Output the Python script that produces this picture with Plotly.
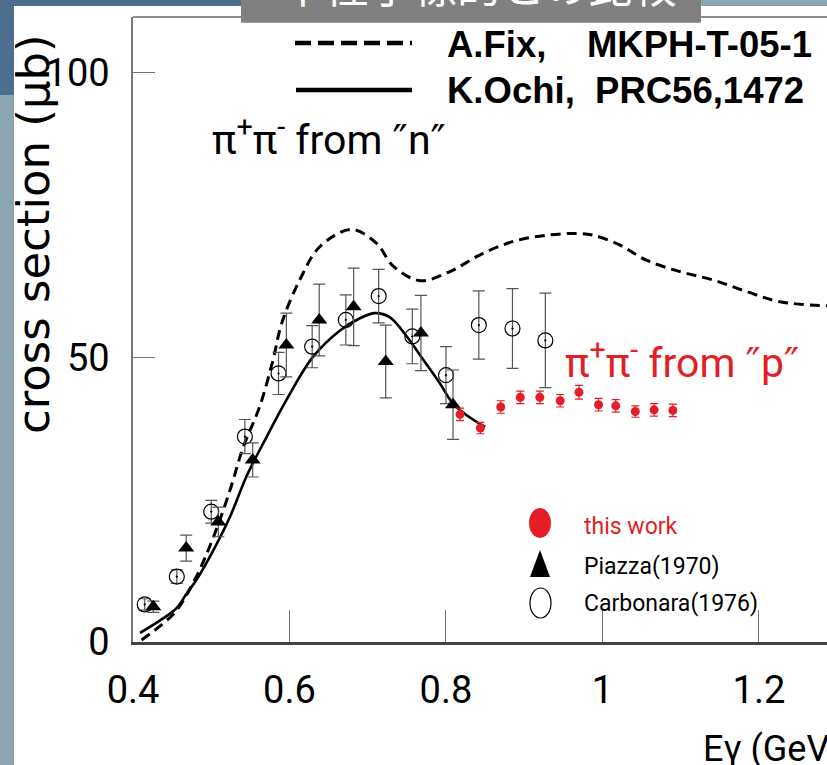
import plotly.graph_objects as go

# ---------------- data ----------------
fix_E = [0.411, 0.439, 0.456, 0.481, 0.503, 0.524, 0.541, 0.562, 0.579, 0.590, 0.613, 0.639,
         0.679, 0.711, 0.733, 0.767, 0.805, 0.843, 0.886, 0.929, 0.967, 0.988, 1.022, 1.056,
         1.099, 1.142, 1.184, 1.227, 1.287]
fix_sigma = [0.35, 3.3, 5.6, 11.5, 18.5, 26.7, 34.3, 41.4, 49.6, 56.0, 63.6, 69.5,
             72.5, 70.1, 66.0, 63.5, 65.1, 68.0, 70.4, 71.5, 71.8, 71.5, 69.8, 67.1,
             65.1, 63.6, 61.6, 59.8, 59.1]

ochi_E = [0.409, 0.439, 0.456, 0.469, 0.481, 0.503, 0.524, 0.545, 0.571, 0.596, 0.630, 0.665,
          0.690, 0.709, 0.728, 0.750, 0.771, 0.792, 0.809, 0.826, 0.850]
ochi_sigma = [1.6, 4.2, 6.0, 8.6, 10.9, 16.2, 22.0, 29.1, 36.1, 42.5, 50.1, 54.8,
              56.9, 57.8, 57.1, 53.7, 49.6, 45.5, 41.9, 39.9, 37.8]

carb_E = [0.415, 0.456, 0.500, 0.543, 0.586, 0.629, 0.672, 0.714, 0.757, 0.800, 0.842, 0.885, 0.927]
carb_sigma = [6.6, 11.5, 22.9, 36.1, 47.2, 51.9, 56.6, 60.8, 53.7, 46.9, 55.7, 55.1, 53.0]
carb_err = [1.0, 1.2, 2.0, 3.0, 3.7, 3.7, 4.4, 4.7, 4.8, 5.0, 6.0, 7.0, 8.3]

piazza_E = [0.426, 0.468, 0.509, 0.553, 0.596, 0.638, 0.682, 0.723, 0.768, 0.809]
piazza_sigma = [6.2, 16.5, 21.1, 32.0, 52.2, 56.6, 58.9, 49.3, 54.3, 41.7]
piazza_err = [1.0, 2.3, 2.6, 3.0, 5.6, 6.3, 6.8, 6.4, 6.6, 6.1]

this_E = [0.818, 0.844, 0.870, 0.895, 0.920, 0.946, 0.970, 0.995, 1.017, 1.042, 1.066, 1.090]
this_sigma = [40.0, 37.6, 41.3, 43.0, 43.0, 42.4, 43.9, 41.7, 41.5, 40.5, 40.8, 40.7]
this_err = [1.1, 1.0, 1.1, 1.1, 1.1, 1.1, 1.2, 1.1, 1.1, 1.0, 1.1, 1.1]

x_ticks = [0.4, 0.6, 0.8, 1.0, 1.2]
x_ticklabels = ["0.4", "0.6", "0.8", "1", "1.2"]
y_ticks = [0, 50, 100]
y_ticklabels = ["0", "50", "100"]

curve_names = ["A.Fix,\u00a0\u00a0\u00a0\u00a0MKPH-T-05-1", "K.Ochi,\u00a0\u00a0PRC56,1472"]
point_names = ["this work", "Piazza(1970)", "Carbonara(1976)"]
title_text = "中性子標的との比較"

# ---------------- layout geometry ----------------
W, H = 827, 765
ML, MR, MT, MB = 133, 0, 17, 123
PW, PH = W - ML - MR, H - MT - MB
X_RANGE = [0.4, 1.287]
Y_RANGE = [0, 109.84]

RED = "#e41e26"
NARROW = "Roboto, Liberation Sans, sans-serif"
BOLD = "Liberation Sans, Arial, sans-serif"
Q = '<span style="font-family:DejaVu Sans">″</span>'


def px2x(px):
    return (px - ML) / PW


def py2y(py):
    return (H - MB - py) / PH


fig = go.Figure()

# theory curves
fig.add_trace(go.Scatter(x=fix_E, y=fix_sigma, mode="lines", name=curve_names[0],
                         line=dict(color="black", width=3, dash="10px,6px", shape="spline"),
                         showlegend=False))
fig.add_trace(go.Scatter(x=ochi_E, y=ochi_sigma, mode="lines", name=curve_names[1],
                         line=dict(color="black", width=2.6, shape="spline"),
                         showlegend=False))

# data points
fig.add_trace(go.Scatter(x=carb_E, y=carb_sigma, mode="markers", name=point_names[2],
                         marker=dict(symbol="circle-open-dot", size=15, color="black",
                                     line=dict(width=1.2, color="black")),
                         error_y=dict(type="data", array=carb_err, color="#555555",
                                      thickness=1.2, width=6),
                         showlegend=False))
fig.add_trace(go.Scatter(x=piazza_E, y=piazza_sigma, mode="markers", name=point_names[1],
                         marker=dict(symbol="triangle-up", size=14, color="black"),
                         error_y=dict(type="data", array=piazza_err, color="#555555",
                                      thickness=1.2, width=6),
                         showlegend=False))
fig.add_trace(go.Scatter(x=this_E, y=this_sigma, mode="markers", name=point_names[0],
                         marker=dict(symbol="circle", size=9, color=RED),
                         error_y=dict(type="data", array=this_err, color=RED,
                                      thickness=1.2, width=4),
                         showlegend=False))

shapes = []
# slide background around the white chart area
shapes.append(dict(type="rect", xref="paper", yref="paper", x0=px2x(0), x1=px2x(14),
                   y0=py2y(H), y1=py2y(0), fillcolor="#8ba6b0", line=dict(width=0), layer="above"))
shapes.append(dict(type="rect", xref="paper", yref="paper", x0=px2x(0), x1=px2x(14),
                   y0=py2y(95), y1=py2y(0), fillcolor="#4c6f8f", line=dict(width=0), layer="above"))
shapes.append(dict(type="rect", xref="paper", yref="paper", x0=px2x(0), x1=px2x(241),
                   y0=py2y(6), y1=py2y(0), fillcolor="#4c6f8f", line=dict(width=0), layer="above"))
shapes.append(dict(type="rect", xref="paper", yref="paper", x0=px2x(701), x1=px2x(W),
                   y0=py2y(6), y1=py2y(0), fillcolor="#8ba6b0", line=dict(width=0), layer="above"))
# top frame line
shapes.append(dict(type="line", xref="paper", yref="paper", x0=0, x1=1, y0=1, y1=1,
                   line=dict(color="#666666", width=1.5), layer="above"))
# title box
shapes.append(dict(type="rect", xref="paper", yref="paper", x0=px2x(241), x1=px2x(701),
                   y0=py2y(22.7), y1=py2y(0), fillcolor="#808080", line=dict(width=0), layer="above"))
# curve keys
shapes.append(dict(type="line", xref="paper", yref="paper", x0=px2x(295), x1=px2x(412),
                   y0=py2y(43), y1=py2y(43), line=dict(color="black", width=4.5, dash="16px,7px")))
shapes.append(dict(type="line", xref="paper", yref="paper", x0=px2x(296), x1=px2x(412),
                   y0=py2y(90), y1=py2y(90), line=dict(color="black", width=4.5)))
# point keys
shapes.append(dict(type="circle", xref="paper", yref="paper", x0=px2x(529), x1=px2x(551),
                   y0=py2y(538), y1=py2y(508), fillcolor=RED, line=dict(width=0)))
shapes.append(dict(type="path", xref="paper", yref="paper",
                   path="M %f,%f L %f,%f L %f,%f Z" % (px2x(540), py2y(550), px2x(550), py2y(577),
                                                       px2x(530), py2y(577)),
                   fillcolor="black", line=dict(width=0)))
shapes.append(dict(type="circle", xref="paper", yref="paper", x0=px2x(530), x1=px2x(551),
                   y0=py2y(618), y1=py2y(588), fillcolor="rgba(0,0,0,0)",
                   line=dict(color="black", width=1.2)))

annotations = []
annotations.append(dict(text="cross section (μb)", xref="paper", yref="paper", x=px2x(34), y=py2y(234),
                        textangle=-90, showarrow=False, xanchor="center", yanchor="middle",
                        font=dict(family="DejaVu Sans, Verdana, sans-serif", size=45, color="black")))
annotations.append(dict(text="Eγ (GeV)", xref="paper", yref="paper", x=px2x(701), y=py2y(749),
                        showarrow=False, xanchor="left", yanchor="middle",
                        font=dict(family=NARROW, size=36, color="black")))
annotations.append(dict(text="π<sup>+</sup>π<sup>-</sup> from %sn%s" % (Q, Q), xref="paper", yref="paper",
                        x=px2x(210), y=py2y(137), showarrow=False, xanchor="left", yanchor="middle",
                        font=dict(family=NARROW, size=41, color="black")))
annotations.append(dict(text="π<sup>+</sup>π<sup>-</sup> from %sp%s" % (Q, Q), xref="paper", yref="paper",
                        x=px2x(563), y=py2y(360), showarrow=False, xanchor="left", yanchor="middle",
                        font=dict(family=NARROW, size=41, color=RED)))
for name, py in zip(curve_names, [45, 90]):
    annotations.append(dict(text="<b>%s</b>" % name, xref="paper", yref="paper", x=px2x(445), y=py2y(py),
                            showarrow=False, xanchor="left", yanchor="middle",
                            font=dict(family=BOLD, size=36.5, color="black")))
for name, py, col in zip(point_names, [526, 566, 603], [RED, "black", "black"]):
    annotations.append(dict(text=name, xref="paper", yref="paper", x=px2x(582), y=py2y(py),
                            showarrow=False, xanchor="left", yanchor="middle",
                            font=dict(family=NARROW, size=23, color=col)))
annotations.append(dict(text=title_text, xref="paper", yref="paper", x=px2x(479), y=py2y(-16),
                        showarrow=False, xanchor="center", yanchor="middle",
                        font=dict(family="Noto Sans CJK JP", size=44, color="white")))

fig.update_layout(
    width=W, height=H, autosize=False,
    margin=dict(l=ML, r=MR, t=MT, b=MB, pad=0),
    paper_bgcolor="white", plot_bgcolor="white",
    showlegend=False,
    shapes=shapes, annotations=annotations,
    xaxis=dict(range=X_RANGE, showgrid=False, zeroline=False,
               showline=True, linecolor="#444444", linewidth=3,
               ticks="inside", ticklen=32, tickwidth=1, tickcolor="#777777",
               tickvals=x_ticks, ticktext=x_ticklabels, ticklabelstandoff=12,
               tickfont=dict(family=NARROW, size=38, color="black")),
    yaxis=dict(range=Y_RANGE, showgrid=False, zeroline=False,
               showline=True, linecolor="#777777", linewidth=1.5,
               ticks="inside", ticklen=22, tickwidth=1, tickcolor="#777777",
               tickvals=y_ticks, ticktext=y_ticklabels, ticklabelstandoff=14,
               tickfont=dict(family=NARROW, size=38, color="black")),
)

fig.write_html("out.html")
